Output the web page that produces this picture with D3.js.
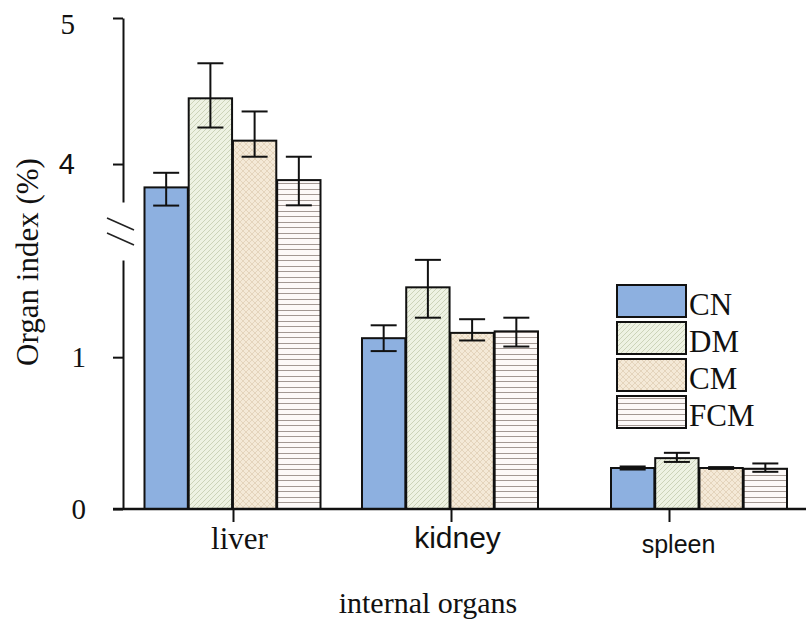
<!DOCTYPE html>
<html>
<head>
<meta charset="utf-8">
<script src="https://cdn.jsdelivr.net/npm/d3@7"></script>
<style>
  body { margin: 0; background: #fff; }
  svg { display: block; }
</style>
</head>
<body>
<div id="chart"></div>
<script>
      var w = 806;
      var h = 624;

      // data
      var organs = ["liver", "kidney", "spleen"];
      var groups = ["CN", "DM", "CM", "FCM"];

      var cnMean  = [3.84, 1.125, 0.27];
      var dmMean  = [4.45, 1.46, 0.335];
      var cmMean  = [4.16, 1.16, 0.27];
      var fcmMean = [3.89, 1.17, 0.265];

      // error bars are not symmetric in the figure
      var cnUp  = [0.10, 0.085, 0.01],  cnDown  = [0.23, 0.085, 0.01];
      var dmUp  = [0.24, 0.185, 0.035], dmDown  = [0.20, 0.20, 0.025];
      var cmUp  = [0.20, 0.09, 0.006],  cmDown  = [0.11, 0.05, 0.006];
      var fcmUp = [0.16, 0.09, 0.035],  fcmDown = [0.27, 0.10, 0.02];

      var upperTicks = [4, 5];
      var lowerTicks = [0, 1];

      var means = [cnMean, dmMean, cmMean, fcmMean];
      var ups = [cnUp, dmUp, cmUp, fcmUp];
      var downs = [cnDown, dmDown, cmDown, fcmDown];

      var dataset = [];
      organs.forEach(function(o, i) {
        groups.forEach(function(g, j) {
          dataset.push({organ: o, oi: i, group: g, value: means[j][i],
                        hi: means[j][i] + ups[j][i], lo: means[j][i] - downs[j][i]});
        });
      });

      var serif = "'Liberation Serif', 'Times New Roman', serif";
      var sans = "'Liberation Sans', Arial, sans-serif";

      var axisX = 123;
      var baseY = 509;

      // broken y axis: two linear pieces, bars use the joined scale
      var yUpper = d3.scaleLinear().domain([3.74, 5]).range([202, 18]);
      var yLower = d3.scaleLinear().domain([0, 1.64]).range([baseY, 260]);
      var yBar = d3.scaleLinear()
                   .domain([0, 1.64, 3.74, 5])
                   .range([baseY, 260, 202, 18]);

      // axis ticks and group centres (spleen group sits right of its tick)
      var xTick = d3.scalePoint().domain(organs).range([233, 669]);
      var xGroup = d3.scaleLinear().domain([0, 1, 2]).range([232.5, 450, 699]);
      var xInner = d3.scaleBand().domain(groups).range([-88, 88]).paddingInner(0.02);

      var svg = d3.select("#chart")
                  .append("svg")
                  .attr("width", w)
                  .attr("height", h);

      //patterns
      var defs = svg.append("defs");

      var pDM = defs.append("pattern").attr("id", "pDM")
          .attr("patternUnits", "userSpaceOnUse").attr("width", 5).attr("height", 5);
      pDM.append("rect").attr("width", 5).attr("height", 5).attr("fill", "#eef2e3");
      pDM.append("path").attr("d", "M0,5L5,0M-1,1L1,-1M4,6L6,4")
         .attr("stroke", "#c3ccae").attr("stroke-width", 0.8);

      var pCM = defs.append("pattern").attr("id", "pCM")
          .attr("patternUnits", "userSpaceOnUse").attr("width", 6).attr("height", 6);
      pCM.append("rect").attr("width", 6).attr("height", 6).attr("fill", "#f4e9d7");
      pCM.append("path").attr("d", "M0,6L6,0M-1,1L1,-1M5,7L7,5M0,0L6,6M-1,5L1,7M5,-1L7,1")
         .attr("stroke", "#dccbb0").attr("stroke-width", 0.7);

      var pFCM = defs.append("pattern").attr("id", "pFCM")
          .attr("patternUnits", "userSpaceOnUse").attr("width", 8).attr("height", 11);
      pFCM.append("rect").attr("width", 8).attr("height", 11).attr("fill", "#fdf9f8");
      pFCM.append("path").attr("d", "M0,2.5H8M0,7.5H8")
         .attr("stroke", "#a39893").attr("stroke-width", 1);

      var fills = d3.scaleOrdinal()
                    .domain(groups)
                    .range(["#8db0e0", "url(#pDM)", "url(#pCM)", "url(#pFCM)"]);

      //bars
      svg.selectAll("rect.bar")
         .data(dataset)
         .enter()
         .append("rect")
         .attr("class", "bar")
         .attr("x", function(d) { return xGroup(d.oi) + xInner(d.group); })
         .attr("width", xInner.bandwidth())
         .attr("y", function(d) { return yBar(d.value); })
         .attr("height", function(d) { return baseY - yBar(d.value); })
         .attr("fill", function(d) { return fills(d.group); })
         .attr("stroke", "#111")
         .attr("stroke-width", 2);

      //error bars
      var eb = svg.selectAll("g.err")
         .data(dataset)
         .enter()
         .append("g")
         .attr("class", "err")
         .attr("transform", function(d) {
            return "translate(" + (xGroup(d.oi) + xInner(d.group) + xInner.bandwidth() / 2) + ",0)";
         })
         .attr("stroke", "#111")
         .attr("stroke-width", 2);
      eb.append("line")
        .attr("y1", function(d) { return yBar(d.hi); })
        .attr("y2", function(d) { return yBar(d.lo); });
      eb.append("line").attr("x1", -13).attr("x2", 13)
        .attr("y1", function(d) { return yBar(d.hi); })
        .attr("y2", function(d) { return yBar(d.hi); });
      eb.append("line").attr("x1", -13).attr("x2", 13)
        .attr("y1", function(d) { return yBar(d.lo); })
        .attr("y2", function(d) { return yBar(d.lo); });

      //Y axes
      var yAxisUp = d3.axisLeft(yUpper).tickValues(upperTicks).tickFormat(d3.format("d"))
                      .tickSize(10).tickSizeOuter(0).tickPadding(38);
      var yAxisLow = d3.axisLeft(yLower).tickValues(lowerTicks).tickFormat(d3.format("d"))
                      .tickSize(10).tickSizeOuter(0).tickPadding(27);

      var gUp = svg.append("g")
         .attr("transform", "translate(" + axisX + ",0)")
         .call(yAxisUp);
      var gLow = svg.append("g")
         .attr("transform", "translate(" + axisX + ",0)")
         .call(yAxisLow);

      [gUp, gLow].forEach(function(g) {
        g.selectAll("path, line").attr("stroke", "#111").attr("stroke-width", 2);
        g.selectAll("text")
         .style("font-family", function(d) { return d === 4 ? sans : serif; })
         .style("font-size", "29px")
         .attr("fill", "#111");
      });
      gUp.selectAll("text").filter(function(d) { return d === 5; }).attr("dy", "0.55em");

      // break marks
      svg.append("g")
         .attr("stroke", "#222").attr("stroke-width", 1.5)
         .selectAll("line")
         .data([0, 15])
         .enter()
         .append("line")
         .attr("x1", 107).attr("x2", 134)
         .attr("y1", function(d) { return 218 + d; })
         .attr("y2", function(d) { return 230 + d; });

      //X axis
      svg.append("line")
         .attr("x1", 113).attr("x2", w)
         .attr("y1", baseY).attr("y2", baseY)
         .attr("stroke", "#111").attr("stroke-width", 2.5);

      var xAxis = d3.axisBottom(xTick).tickSize(13).tickSizeOuter(0).tickPadding(5);
      var gx = svg.append("g")
         .attr("transform", "translate(0," + baseY + ")")
         .call(xAxis);
      gx.select(".domain").remove();
      gx.selectAll("line").attr("stroke", "#111").attr("stroke-width", 2);
      gx.selectAll("text")
        .attr("fill", "#111")
        .attr("dx", function(d) { return d === "spleen" ? 9 : 6; })
        .attr("dy", function(d) { return d === "spleen" ? "1.05em" : "0.71em"; })
        .style("font-family", function(d) { return d === "liver" ? serif : sans; })
        .style("font-size", function(d) { return d === "spleen" ? "25px" : d === "liver" ? "31px" : "30px"; });

      //titles
      svg.append("text")
         .attr("transform", "translate(38,262) rotate(-90)")
         .attr("text-anchor", "middle")
         .style("font-family", serif)
         .style("font-size", "31px")
         .attr("fill", "#111")
         .text("Organ index (%)");

      svg.append("text")
         .attr("x", 428).attr("y", 613)
         .attr("text-anchor", "middle")
         .style("font-family", serif)
         .style("font-size", "30px")
         .attr("fill", "#111")
         .text("internal organs");

      //legend
      var legend = svg.selectAll("g.legend")
         .data(groups)
         .enter()
         .append("g")
         .attr("class", "legend")
         .attr("transform", function(d, i) { return "translate(617," + (285 + i * 37) + ")"; });
      legend.append("rect")
         .attr("width", 69).attr("height", 32)
         .attr("fill", function(d) { return fills(d); })
         .attr("stroke", "#111").attr("stroke-width", 2);
      legend.append("text")
         .attr("x", 72).attr("y", 30)
         .style("font-family", serif)
         .style("font-size", "31px")
         .attr("fill", "#111")
         .text(function(d) { return d; });
</script>
</body>
</html>
